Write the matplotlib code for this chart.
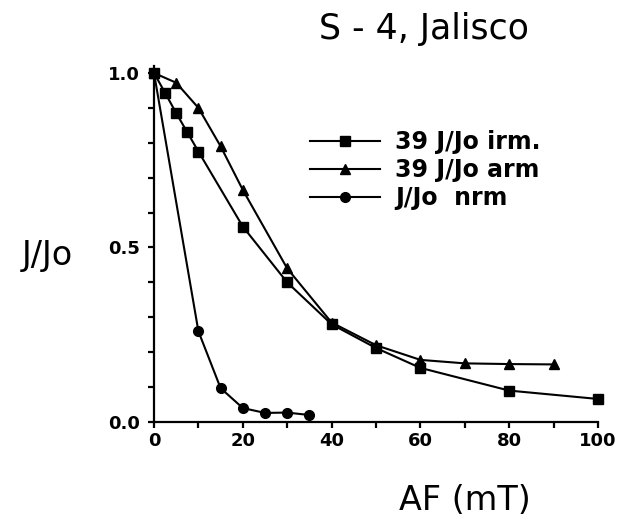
import matplotlib
matplotlib.use("Agg")
import matplotlib.pyplot as plt
from matplotlib.ticker import MultipleLocator, FixedLocator

# Data
irm_x = [0, 2.5, 5, 7.5, 10, 20, 30, 40, 50, 60, 80, 100]
irm_y = [1.0, 0.943, 0.885, 0.83, 0.775, 0.56, 0.40, 0.28, 0.212, 0.155, 0.09, 0.066]

arm_x = [0, 5, 10, 15, 20, 30, 40, 50, 60, 70, 80, 90]
arm_y = [1.0, 0.972, 0.90, 0.79, 0.665, 0.44, 0.285, 0.22, 0.178, 0.168, 0.166, 0.165]

nrm_x = [0, 10, 15, 20, 25, 30, 35]
nrm_y = [1.0, 0.26, 0.097, 0.04, 0.026, 0.027, 0.02]

labels = ["39 J/Jo irm.", "39 J/Jo arm", "J/Jo  nrm"]
x_ticks = [0, 20, 40, 60, 80, 100]
y_ticks = [0.0, 0.5, 1.0]
title = "S - 4, Jalisco"
xlabel = "AF (mT)"
ylabel = "J/Jo"

W, H = 626, 518
fig = plt.figure(figsize=(W / 100, H / 100), dpi=100)
ax = fig.add_axes([154 / W, 1 - 422 / H, (598 - 154) / W, (422 - 66) / H])
ax.set_xlim(0, 100)
ax.set_ylim(0, 1.02)

lw = 1.5
ms = 7
l1, = ax.plot(irm_x, irm_y, color="black", lw=lw, marker="s", ms=ms, clip_on=False, label=labels[0])
l2, = ax.plot(arm_x, arm_y, color="black", lw=lw, marker="^", ms=ms + 0.5, clip_on=False, label=labels[1])
l3, = ax.plot(nrm_x, nrm_y, color="black", lw=lw, marker="o", ms=ms, clip_on=False, label=labels[2])

for s in ["top", "right"]:
    ax.spines[s].set_visible(False)
for s in ["left", "bottom"]:
    ax.spines[s].set_linewidth(1.6)

ax.xaxis.set_major_locator(FixedLocator(x_ticks))
ax.xaxis.set_minor_locator(MultipleLocator(10))
ax.yaxis.set_major_locator(FixedLocator(y_ticks))
ax.yaxis.set_minor_locator(MultipleLocator(0.1))
ax.set_xticklabels([str(v) for v in x_ticks], fontsize=13, fontweight="bold")
ax.set_yticklabels(["%.1f" % v for v in y_ticks], fontsize=13, fontweight="bold")
ax.tick_params(axis="both", which="both", direction="out", width=1.6, length=4)
ax.tick_params(axis="x", which="major", pad=3)
ax.tick_params(axis="y", which="major", pad=6)

leg = ax.legend(handles=[l1, l2, l3], loc="upper left",
                bbox_to_anchor=(310 / W, 1 - 130 / H), bbox_transform=fig.transFigure,
                frameon=False, borderpad=0, borderaxespad=0, handlelength=2.97,
                handletextpad=0.64, labelspacing=0.18,
                prop={"size": 17, "weight": "bold"})

fig.text(424 / W, 1 - 29 / H, title, ha="center", va="center", fontsize=25)
fig.text(47 / W, 1 - 256 / H, ylabel, ha="center", va="center", fontsize=24)
fig.text(465 / W, 1 - 501 / H, xlabel, ha="center", va="center", fontsize=24)

fig.savefig("out.png", dpi=100)
